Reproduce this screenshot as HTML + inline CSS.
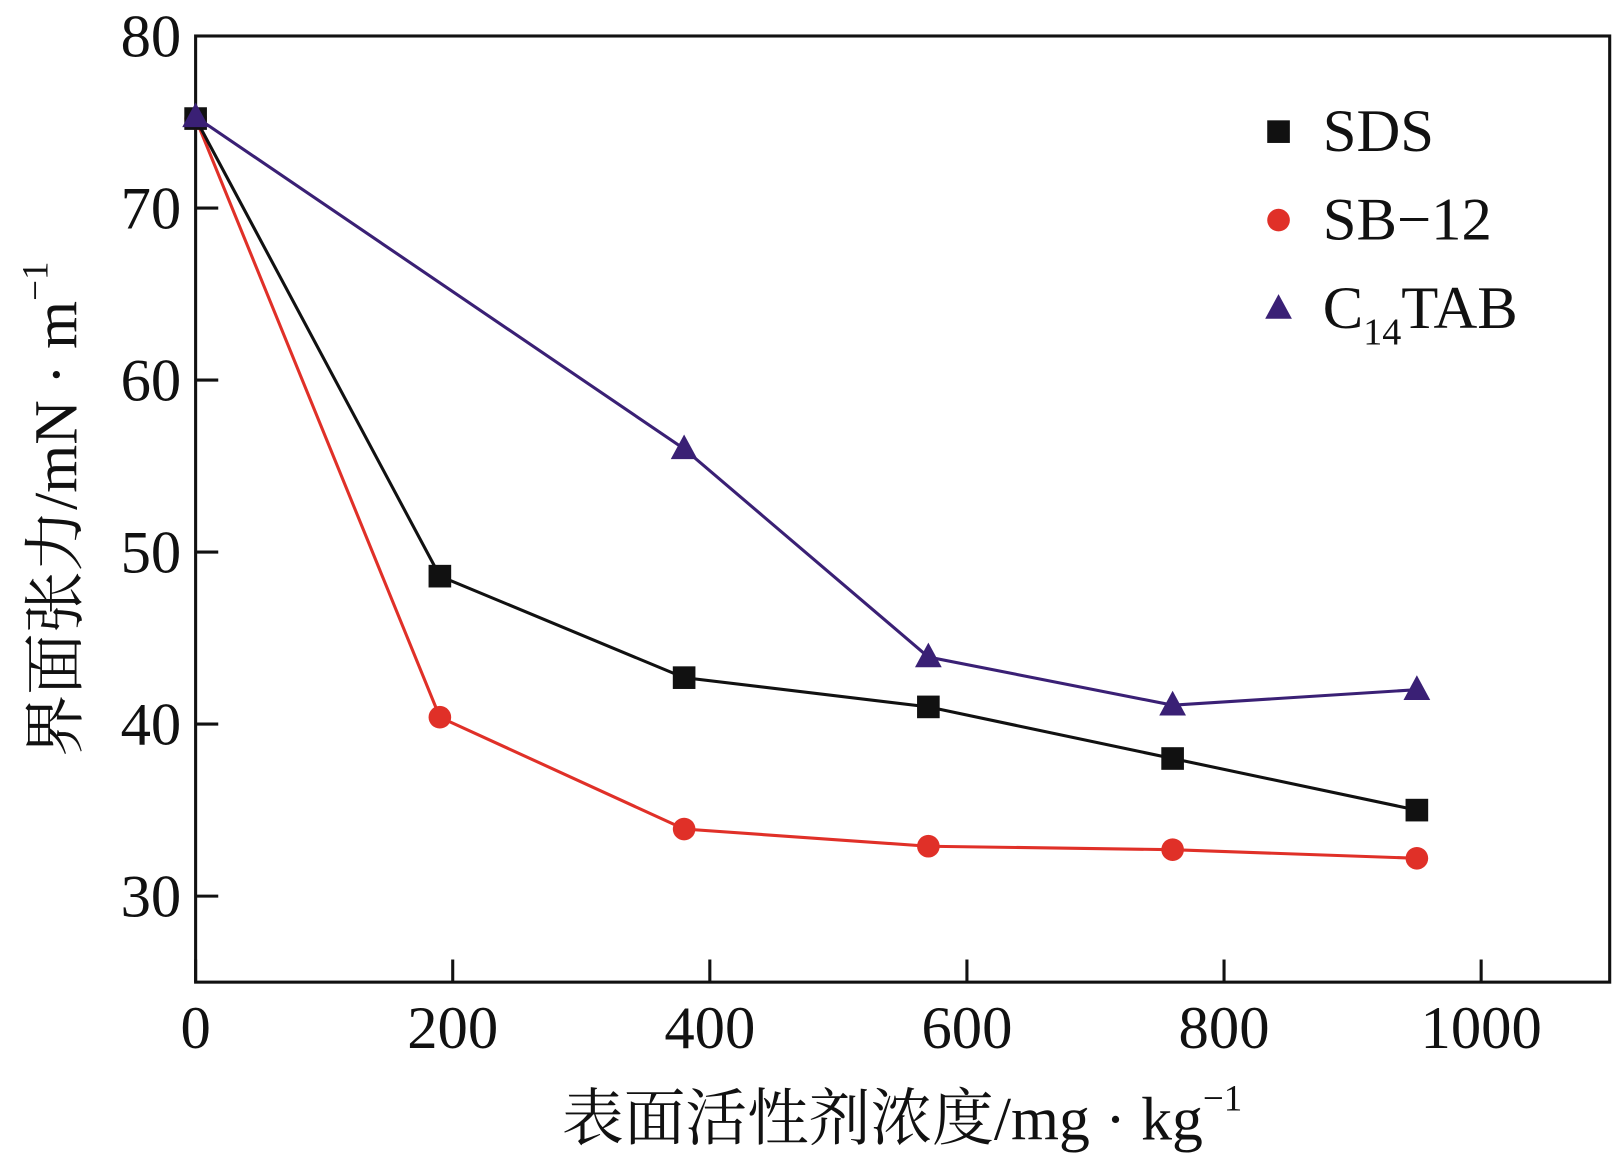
<!DOCTYPE html>
<html><head><meta charset="utf-8"><style>html,body{margin:0;padding:0;background:#fff}svg{display:block}</style></head>
<body>
<svg id="chart" xmlns="http://www.w3.org/2000/svg" width="1613" height="1158" viewBox="0 0 1568 1126" font-family="'Liberation Serif','Noto Serif CJK SC',serif">
<rect x="0" y="0" width="1568" height="1126" fill="#fff"/>
<g id="plot"></g>
</svg>
<script>
const xValues = [0, 190, 380, 570, 760, 950];
const sdsValues = [75.2, 48.6, 42.7, 41.0, 38.0, 35.0];
const sb12Values = [75.2, 40.4, 33.9, 32.9, 32.7, 32.2];
const c14xValues = [0, 380, 570, 760, 950];
const c14Values = [75.3, 56.0, 43.9, 41.1, 42.0];
const xTicks = [0, 200, 400, 600, 800, 1000];
const yTicks = [30, 40, 50, 60, 70, 80];

const L=190, R=1565, T=35, B=955;
const xMin=0, xMax=1100, yMin=25, yMax=80;
const X = v => L + (v - xMin) / (xMax - xMin) * (R - L);
const Y = v => B - (v - yMin) / (yMax - yMin) * (B - T);
const NS='http://www.w3.org/2000/svg';
const g=document.getElementById('plot');
function mk(tag, attrs, parent){const e=document.createElementNS(NS,tag);for(const k in attrs)e.setAttribute(k,attrs[k]);(parent||g).appendChild(e);return e;}

let frame=mk('rect',{x:L,y:T,width:R-L,height:B-T,fill:'none',stroke:'#111','stroke-width':3});



xTicks.forEach(t=>{
  const tk=mk('line',{x1:X(t),x2:X(t),y1:B,y2:B-22,stroke:'#111','stroke-width':3});
  
  
  const lb=mk('text',{x:X(t),y:1019,'font-size':59,'text-anchor':'middle',fill:'#111'});
  lb.textContent=t;
  
  
});
yTicks.forEach(t=>{
  const tk=mk('line',{x1:L,x2:L+22,y1:Y(t),y2:Y(t),stroke:'#111','stroke-width':3});
  
  
  const lb=mk('text',{x:176,y:Y(t)+20,'font-size':59,'text-anchor':'end',fill:'#111'});
  lb.textContent=t;
  
  
});

function series(xs, ys, color, shape, name){
  const pl=mk('polyline',{points:xs.map((x,i)=>X(x)+','+Y(ys[i])).join(' '),fill:'none',stroke:color,'stroke-width':3});
  
  
  xs.forEach((x,i)=>{
    const m=marker(X(x),Y(ys[i]),color,shape);
    
    
  });
}
function marker(cx,cy,color,shape){
  if(shape==='square') return mk('rect',{x:cx-11,y:cy-11,width:22,height:22,fill:color});
  if(shape==='circle') return mk('circle',{cx:cx,cy:cy,r:11,fill:color});
  return mk('polygon',{points:`${cx},${cy-14} ${cx-13},${cy+10} ${cx+13},${cy+10}`,fill:color});
}
series(xValues,sb12Values,'#e03028','circle','sb12');
series(xValues,sdsValues,'#111','square','sds');
series(c14xValues,c14Values,'#3a2075','triangle','c14tab');

const leg=[['SDS','#111','square',128],['SB-12','#e03028','circle',214],['C14TAB','#3a2075','triangle',300]];
leg.forEach(([n,c,s,y])=>{
  const m=marker(1243,y,c,s);
  
  
});
let t1=mk('text',{x:1286,y:147,'font-size':59,fill:'#111'});t1.textContent='SDS';


let t2=mk('text',{x:1286,y:233,'font-size':59,fill:'#111'});t2.textContent='SB−12';


let t3=mk('text',{x:1286,y:319,'font-size':59,fill:'#111'});
t3.innerHTML='C<tspan font-size="37" dy="16">14</tspan><tspan dy="-16">TAB</tspan>';



let xt=mk('text',{x:877,y:1108,'font-size':60,'text-anchor':'middle',fill:'#111'});
xt.innerHTML='表面活性剂浓度/mg · kg<tspan font-size="36" dy="-28">−1</tspan>';


let yt=mk('text',{x:0,y:0,'font-size':60,'text-anchor':'middle',fill:'#111',transform:'translate(74,495) rotate(-90)'});
yt.innerHTML='界面张力/mN · m<tspan font-size="36" dy="-28">−1</tspan>';


</script>
</body></html>
